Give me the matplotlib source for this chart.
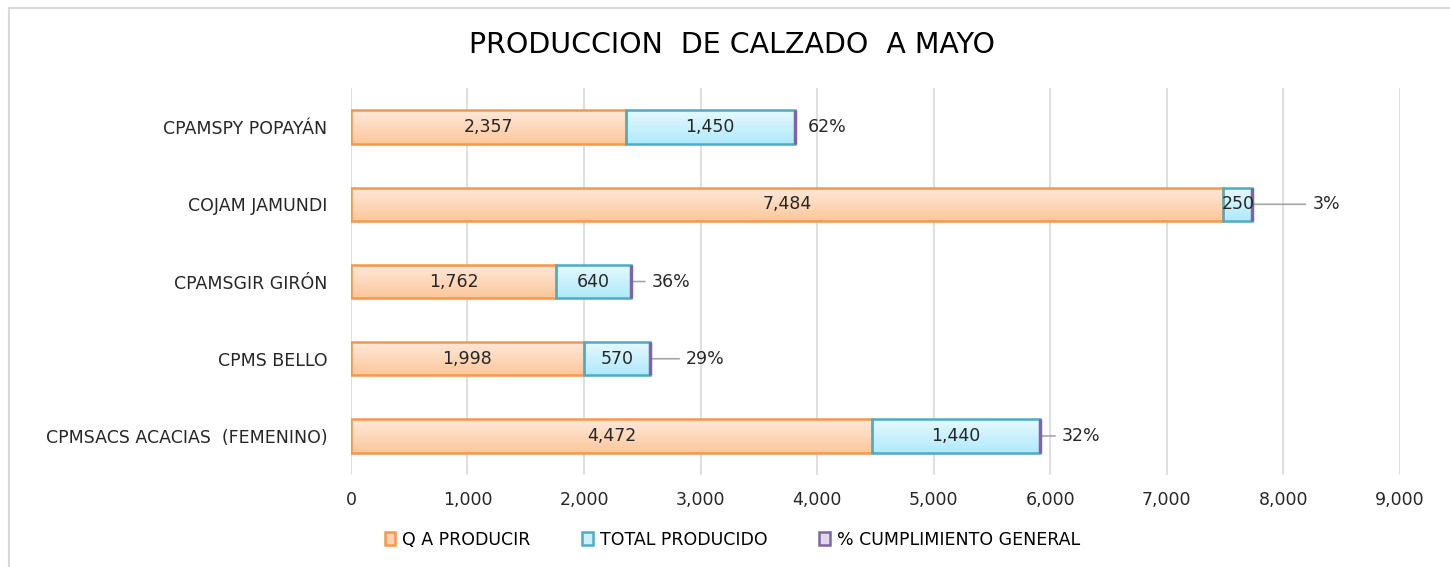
import numpy as np
import matplotlib.pyplot as plt
from matplotlib.colors import LinearSegmentedColormap
from matplotlib.lines import Line2D
from matplotlib.patches import Patch

categorias = ['CPMSACS ACACIAS  (FEMENINO)', 'CPMS BELLO', 'CPAMSGIR GIRÓN',
              'COJAM JAMUNDI', 'CPAMSPY POPAYÁN']
q_producir = [4472, 1998, 1762, 7484, 2357]
total_producido = [1440, 570, 640, 250, 1450]
cumplimiento = [0.32, 0.29, 0.36, 0.03, 0.62]
# offset (px) from end of bar to the % label
label_offset = [22, 36, 21, 60, 13]

plt.rcParams['font.family'] = ['DejaVu Sans']
fs = 12.5

fig = plt.figure(figsize=(14.5, 5.67), dpi=100)
ax = fig.add_axes([0.242, 0.163, 0.7235, 0.681])

y = np.arange(len(categorias))
h = 0.43


def gradient_fill(bars, top, bottom):
    # vertical gradient clipped to each bar
    cmap = LinearSegmentedColormap.from_list('g', [bottom, top])
    grad = np.linspace(0, 1, 64).reshape(-1, 1)
    for b in bars:
        x0, y0 = b.get_x(), b.get_y()
        im = ax.imshow(grad, cmap=cmap, aspect='auto', zorder=2.9,
                       extent=(x0, x0 + b.get_width(), y0 + b.get_height(), y0),
                       origin='upper')
        im.set_clip_path(b)


b1 = ax.barh(y, q_producir, height=h, color='none', edgecolor='#F79646',
             linewidth=1.8, zorder=3, label='Q A PRODUCIR')
ends = np.array(q_producir) + np.array(total_producido)
b2 = ax.barh(y, total_producido, left=q_producir, height=h, color='none',
             edgecolor='#4BACC6', linewidth=1.8, zorder=3, label='TOTAL PRODUCIDO')
gradient_fill(b1, '#FFE9DA', '#FCC79B')
gradient_fill(b2, '#E6F9FE', '#B0E9FB')
ax.barh(y, cumplimiento, left=ends, height=h, color='#B3A2C7',
        edgecolor='#8064A2', linewidth=2.5, zorder=3,
        label='% CUMPLIMIENTO GENERAL')
ax.set_xlim(0, 9000)
ax.set_ylim(-0.5, 4.5)

for i in range(len(y)):
    ax.text(q_producir[i] / 2, y[i], f'{q_producir[i]:,}', ha='center',
            va='center', fontsize=fs, color='#262626', zorder=5)
    ax.text(q_producir[i] + total_producido[i] / 2, y[i],
            f'{total_producido[i]:,}', ha='center', va='center',
            fontsize=fs, color='#262626', zorder=5)
    off = label_offset[i] * 72 / 100
    ax.annotate(f'{cumplimiento[i]:.0%}', xy=(ends[i], y[i]),
                xytext=(off, 0), textcoords='offset points', ha='left',
                va='center', fontsize=fs, color='#262626', zorder=5)
    if label_offset[i] > 15:
        ax.annotate('', xy=(ends[i], y[i]), xytext=(off - 5, 0),
                    textcoords='offset points',
                    arrowprops=dict(arrowstyle='-', color='#A6A6A6', lw=1.2,
                                    shrinkA=0, shrinkB=0), zorder=2)

ax.set_xticks(np.arange(0, 9001, 1000))
ax.xaxis.set_major_formatter(plt.FuncFormatter(lambda v, p: f'{int(v):,}'))
ax.set_yticks(y)
ax.set_yticklabels(categorias)
ax.tick_params(axis='both', length=0, labelsize=fs, colors='#262626')
ax.tick_params(axis='y', pad=17)
ax.tick_params(axis='x', pad=12)
ax.grid(axis='x', color='#D9D9D9', linewidth=1.2, zorder=0)
for s in ax.spines.values():
    s.set_visible(False)

fig.text(0.505, 0.92, 'PRODUCCION  DE CALZADO  A MAYO', ha='center',
         va='center', fontsize=20.5, color='#000000')

handles = [Patch(facecolor='#FCD3B4', edgecolor='#F79646', lw=1.8),
           Patch(facecolor='#CDEFFA', edgecolor='#4BACC6', lw=1.8),
           Patch(facecolor='#E0D8EA', edgecolor='#8064A2', lw=1.8)]
fig.legend(handles, ['Q A PRODUCIR', 'TOTAL PRODUCIDO', '% CUMPLIMIENTO GENERAL'],
           loc='center', bbox_to_anchor=(0.505, 0.048), ncol=3, frameon=False,
           fontsize=fs, handlelength=0.6, handleheight=0.8, handletextpad=0.4,
           columnspacing=3.0)

# chart area border (top and left visible)
fig.add_artist(Line2D([0.006, 1.0], [0.986, 0.986], transform=fig.transFigure,
                      color='#D9D9D9', lw=1.5))
fig.add_artist(Line2D([0.006, 0.006], [0.0, 0.986], transform=fig.transFigure,
                      color='#D9D9D9', lw=1.5))

fig.savefig('out.png')
